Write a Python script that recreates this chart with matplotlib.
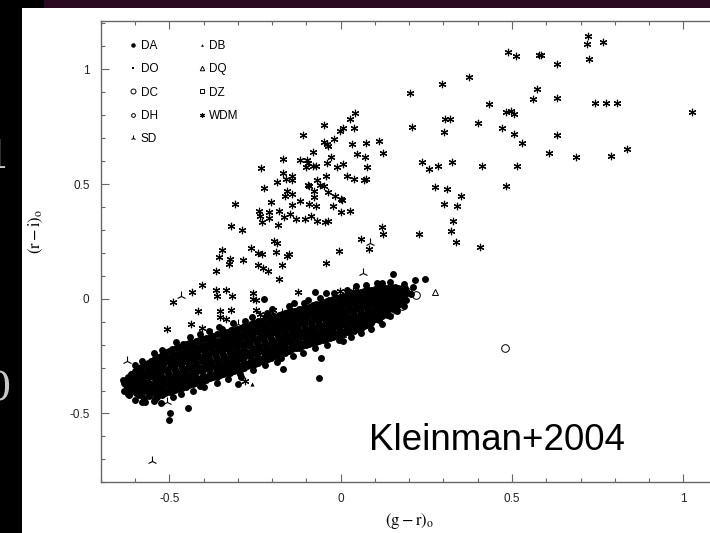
import matplotlib
matplotlib.use("Agg")
import matplotlib.pyplot as plt
from matplotlib.ticker import MultipleLocator, FuncFormatter
from matplotlib.patches import Rectangle

plt.rcParams['font.family'] = ['Liberation Sans', 'DejaVu Sans']
plt.rcParams['mathtext.fontset'] = 'stix'

W, H, DPI = 710, 533, 100

# ---- colour-colour data: (g-r)_o, (r-i)_o ----
da_core_a = [
    (-0.634, -0.356), (-0.628, -0.373), (-0.624, -0.389), (-0.631, -0.402), (-0.621, -0.417),
    (-0.613, -0.329), (-0.607, -0.348), (-0.615, -0.366), (-0.604, -0.383), (-0.611, -0.401), (-0.617, -0.421),
    (-0.593, -0.306), (-0.586, -0.326), (-0.596, -0.344), (-0.589, -0.363), (-0.583, -0.381), (-0.594, -0.399), (-0.588, -0.418),
    (-0.574, -0.287), (-0.566, -0.309), (-0.571, -0.331), (-0.578, -0.347), (-0.565, -0.366), (-0.572, -0.386), (-0.568, -0.404), (-0.575, -0.431),
    (-0.553, -0.271), (-0.546, -0.292), (-0.556, -0.314), (-0.549, -0.334), (-0.543, -0.351), (-0.552, -0.372), (-0.547, -0.392), (-0.555, -0.414), (-0.544, -0.446),
    (-0.534, -0.254), (-0.527, -0.276), (-0.531, -0.299), (-0.536, -0.320), (-0.524, -0.341), (-0.533, -0.361), (-0.526, -0.381), (-0.529, -0.404), (-0.535, -0.428),
    (-0.512, -0.233), (-0.506, -0.259), (-0.515, -0.282), (-0.508, -0.304), (-0.503, -0.325), (-0.514, -0.346), (-0.509, -0.366), (-0.505, -0.389), (-0.511, -0.411),
    (-0.493, -0.221), (-0.487, -0.246), (-0.495, -0.269), (-0.489, -0.291), (-0.484, -0.314), (-0.494, -0.335), (-0.488, -0.356), (-0.486, -0.379), (-0.492, -0.401),
    (-0.472, -0.209), (-0.466, -0.237), (-0.474, -0.259), (-0.468, -0.283), (-0.463, -0.302), (-0.475, -0.325), (-0.469, -0.346), (-0.465, -0.369), (-0.471, -0.392),
    (-0.452, -0.199), (-0.446, -0.224), (-0.455, -0.248), (-0.449, -0.272), (-0.443, -0.291), (-0.454, -0.314), (-0.447, -0.335), (-0.444, -0.359), (-0.451, -0.383),
    (-0.433, -0.191), (-0.426, -0.213), (-0.435, -0.239), (-0.429, -0.260), (-0.424, -0.284), (-0.434, -0.303), (-0.428, -0.326), (-0.425, -0.351), (-0.431, -0.371),
    (-0.412, -0.181), (-0.406, -0.205), (-0.415, -0.227), (-0.409, -0.252), (-0.404, -0.272), (-0.414, -0.296), (-0.408, -0.316), (-0.405, -0.341), (-0.411, -0.361),
    (-0.393, -0.171), (-0.387, -0.196), (-0.395, -0.219), (-0.389, -0.242), (-0.384, -0.263), (-0.394, -0.286), (-0.388, -0.307), (-0.385, -0.331), (-0.392, -0.352),
    (-0.372, -0.163), (-0.366, -0.186), (-0.375, -0.210), (-0.369, -0.233), (-0.364, -0.254), (-0.374, -0.277), (-0.368, -0.298), (-0.365, -0.321), (-0.371, -0.343),
    (-0.353, -0.153), (-0.347, -0.178), (-0.355, -0.200), (-0.349, -0.224), (-0.344, -0.245), (-0.354, -0.268), (-0.348, -0.289), (-0.345, -0.312), (-0.352, -0.334),
    (-0.332, -0.145), (-0.326, -0.169), (-0.335, -0.191), (-0.329, -0.215), (-0.324, -0.236), (-0.334, -0.259), (-0.328, -0.280), (-0.325, -0.303), (-0.331, -0.325),
    (-0.313, -0.136), (-0.307, -0.160), (-0.315, -0.183), (-0.309, -0.206), (-0.304, -0.227), (-0.314, -0.250), (-0.308, -0.271), (-0.305, -0.294), (-0.312, -0.316),
    (-0.292, -0.127), (-0.286, -0.150), (-0.295, -0.173), (-0.289, -0.196), (-0.284, -0.217), (-0.294, -0.240), (-0.288, -0.261), (-0.285, -0.284), (-0.291, -0.305),
    (-0.273, -0.117), (-0.267, -0.140), (-0.275, -0.163), (-0.269, -0.186), (-0.264, -0.207), (-0.274, -0.230), (-0.268, -0.251), (-0.265, -0.274), (-0.272, -0.295),
    (-0.252, -0.106), (-0.246, -0.129), (-0.255, -0.152), (-0.249, -0.175), (-0.244, -0.196), (-0.254, -0.219), (-0.248, -0.240), (-0.245, -0.263), (-0.251, -0.284),
    (-0.233, -0.095), (-0.227, -0.118), (-0.235, -0.141), (-0.229, -0.164), (-0.224, -0.185), (-0.234, -0.208), (-0.228, -0.229), (-0.225, -0.252), (-0.232, -0.273),
    (-0.212, -0.084), (-0.206, -0.107), (-0.215, -0.130), (-0.209, -0.153), (-0.204, -0.174), (-0.214, -0.197), (-0.208, -0.218), (-0.205, -0.241), (-0.211, -0.262),
    (-0.193, -0.073), (-0.187, -0.096), (-0.195, -0.119), (-0.189, -0.142), (-0.184, -0.163), (-0.194, -0.186), (-0.188, -0.207), (-0.185, -0.230), (-0.192, -0.251),
    (-0.172, -0.066), (-0.166, -0.088), (-0.175, -0.110), (-0.169, -0.132), (-0.164, -0.153), (-0.174, -0.175), (-0.168, -0.196), (-0.165, -0.218), (-0.171, -0.237),
    (-0.153, -0.057), (-0.147, -0.079), (-0.155, -0.101), (-0.149, -0.123), (-0.144, -0.144), (-0.154, -0.166), (-0.148, -0.187), (-0.145, -0.209), (-0.152, -0.228),
    (-0.132, -0.052), (-0.126, -0.073), (-0.135, -0.094), (-0.129, -0.115), (-0.124, -0.135), (-0.134, -0.156), (-0.128, -0.176), (-0.125, -0.197), (-0.131, -0.214),
    (-0.113, -0.043), (-0.107, -0.064), (-0.115, -0.085), (-0.109, -0.106), (-0.104, -0.126), (-0.114, -0.147), (-0.108, -0.167), (-0.105, -0.188), (-0.112, -0.205),
    (-0.092, -0.034), (-0.086, -0.055), (-0.095, -0.076), (-0.089, -0.097), (-0.084, -0.117), (-0.094, -0.138), (-0.088, -0.158), (-0.085, -0.179), (-0.091, -0.196),
    (-0.073, -0.025), (-0.067, -0.046), (-0.075, -0.067), (-0.069, -0.088), (-0.064, -0.108), (-0.074, -0.129), (-0.068, -0.149), (-0.065, -0.170), (-0.072, -0.187),
    (-0.052, -0.016), (-0.046, -0.037), (-0.055, -0.058), (-0.049, -0.079), (-0.044, -0.099), (-0.054, -0.120), (-0.048, -0.140), (-0.045, -0.161), (-0.051, -0.178),
    (-0.033, -0.007), (-0.027, -0.028), (-0.035, -0.049), (-0.029, -0.070), (-0.024, -0.090), (-0.034, -0.111), (-0.028, -0.131), (-0.025, -0.152), (-0.032, -0.169),
    (-0.012, 0.002), (-0.006, -0.019), (-0.015, -0.040), (-0.009, -0.061), (-0.004, -0.081), (-0.014, -0.102), (-0.008, -0.122), (-0.005, -0.143), (-0.011, -0.160),
    (0.008, 0.011), (0.014, -0.010), (0.005, -0.031), (0.011, -0.052), (0.016, -0.072), (0.006, -0.093), (0.012, -0.113), (0.015, -0.134), (0.009, -0.151),
    (0.027, 0.020), (0.033, -0.001), (0.025, -0.022), (0.031, -0.043), (0.036, -0.063), (0.026, -0.084), (0.032, -0.104), (0.035, -0.125), (0.028, -0.142),
    (0.048, 0.029), (0.054, 0.008), (0.045, -0.013), (0.051, -0.034), (0.056, -0.054), (0.046, -0.075), (0.052, -0.095), (0.055, -0.116), (0.049, -0.133),
    (0.067, 0.034), (0.073, 0.014), (0.065, -0.006), (0.071, -0.026), (0.076, -0.045), (0.066, -0.065), (0.072, -0.084), (0.075, -0.104), (0.068, -0.119),
    (0.088, 0.040), (0.094, 0.021), (0.085, 0.002), (0.091, -0.017), (0.096, -0.035), (0.086, -0.054), (0.092, -0.072), (0.095, -0.091), (0.089, -0.105),
    (0.107, 0.045), (0.113, 0.027), (0.105, 0.009), (0.111, -0.009), (0.116, -0.026), (0.106, -0.044), (0.112, -0.061), (0.115, -0.079),
    (0.128, 0.048), (0.134, 0.031), (0.125, 0.014), (0.131, -0.003), (0.136, -0.019), (0.126, -0.036), (0.132, -0.052), (0.135, -0.069),
    (0.147, 0.050), (0.153, 0.034), (0.145, 0.018), (0.151, 0.002), (0.156, -0.013), (0.146, -0.029), (0.152, -0.045),
    (0.168, 0.048), (0.174, 0.033), (0.165, 0.018), (0.171, 0.003), (0.176, -0.012), (0.166, -0.027),
    (0.187, 0.045), (0.193, 0.028), (0.185, 0.012), (0.191, -0.004),
]
da_core_b = [
    (-0.619, -0.343), (-0.622, -0.366), (-0.618, -0.386), (-0.623, -0.407),
    (-0.601, -0.316), (-0.598, -0.337), (-0.603, -0.356), (-0.599, -0.374), (-0.602, -0.392), (-0.597, -0.412),
    (-0.581, -0.296), (-0.579, -0.318), (-0.584, -0.338), (-0.577, -0.357), (-0.582, -0.375), (-0.578, -0.394), (-0.583, -0.416),
    (-0.561, -0.279), (-0.559, -0.302), (-0.563, -0.323), (-0.558, -0.342), (-0.562, -0.361), (-0.557, -0.380), (-0.561, -0.399), (-0.559, -0.422),
    (-0.541, -0.259), (-0.538, -0.283), (-0.543, -0.306), (-0.539, -0.327), (-0.542, -0.346), (-0.537, -0.366), (-0.541, -0.387), (-0.538, -0.409), (-0.542, -0.436),
    (-0.521, -0.243), (-0.518, -0.266), (-0.522, -0.290), (-0.519, -0.312), (-0.523, -0.333), (-0.517, -0.353), (-0.521, -0.374), (-0.518, -0.397), (-0.522, -0.421),
    (-0.501, -0.226), (-0.498, -0.252), (-0.502, -0.275), (-0.499, -0.297), (-0.503, -0.318), (-0.497, -0.339), (-0.501, -0.361), (-0.498, -0.383), (-0.502, -0.407),
    (-0.481, -0.213), (-0.478, -0.240), (-0.482, -0.264), (-0.479, -0.286), (-0.483, -0.307), (-0.477, -0.328), (-0.481, -0.351), (-0.478, -0.373), (-0.482, -0.396),
    (-0.461, -0.205), (-0.458, -0.230), (-0.462, -0.253), (-0.459, -0.276), (-0.463, -0.297), (-0.457, -0.318), (-0.461, -0.340), (-0.458, -0.363), (-0.462, -0.388),
    (-0.441, -0.193), (-0.438, -0.219), (-0.442, -0.243), (-0.439, -0.266), (-0.443, -0.287), (-0.437, -0.308), (-0.441, -0.331), (-0.438, -0.354), (-0.442, -0.378),
    (-0.421, -0.186), (-0.418, -0.209), (-0.422, -0.233), (-0.419, -0.256), (-0.423, -0.278), (-0.417, -0.299), (-0.421, -0.321), (-0.418, -0.345), (-0.422, -0.366),
    (-0.401, -0.174), (-0.398, -0.200), (-0.402, -0.223), (-0.399, -0.246), (-0.403, -0.267), (-0.397, -0.290), (-0.401, -0.311), (-0.398, -0.335), (-0.402, -0.358),
    (-0.381, -0.167), (-0.378, -0.191), (-0.382, -0.214), (-0.379, -0.237), (-0.383, -0.258), (-0.377, -0.281), (-0.381, -0.302), (-0.378, -0.326), (-0.382, -0.347),
    (-0.361, -0.155), (-0.358, -0.182), (-0.362, -0.205), (-0.359, -0.228), (-0.363, -0.249), (-0.357, -0.272), (-0.361, -0.293), (-0.358, -0.316), (-0.362, -0.340),
    (-0.341, -0.149), (-0.338, -0.173), (-0.342, -0.195), (-0.339, -0.219), (-0.343, -0.240), (-0.337, -0.263), (-0.341, -0.284), (-0.338, -0.307), (-0.342, -0.329),
    (-0.321, -0.138), (-0.318, -0.164), (-0.322, -0.187), (-0.319, -0.210), (-0.323, -0.231), (-0.317, -0.254), (-0.321, -0.275), (-0.318, -0.298), (-0.322, -0.322),
    (-0.301, -0.131), (-0.298, -0.155), (-0.302, -0.178), (-0.299, -0.201), (-0.303, -0.222), (-0.297, -0.245), (-0.301, -0.266), (-0.298, -0.289), (-0.302, -0.310),
    (-0.281, -0.120), (-0.278, -0.145), (-0.282, -0.168), (-0.279, -0.191), (-0.283, -0.212), (-0.277, -0.235), (-0.281, -0.256), (-0.278, -0.279), (-0.282, -0.303),
    (-0.261, -0.111), (-0.258, -0.134), (-0.262, -0.157), (-0.259, -0.180), (-0.263, -0.201), (-0.257, -0.224), (-0.261, -0.245), (-0.258, -0.268), (-0.262, -0.289),
    (-0.241, -0.098), (-0.238, -0.123), (-0.242, -0.146), (-0.239, -0.169), (-0.243, -0.190), (-0.237, -0.213), (-0.241, -0.234), (-0.238, -0.257), (-0.242, -0.281),
    (-0.221, -0.090), (-0.218, -0.113), (-0.222, -0.136), (-0.219, -0.159), (-0.223, -0.180), (-0.217, -0.203), (-0.221, -0.224), (-0.218, -0.247), (-0.222, -0.268),
    (-0.201, -0.077), (-0.198, -0.102), (-0.202, -0.125), (-0.199, -0.148), (-0.203, -0.169), (-0.197, -0.192), (-0.201, -0.213), (-0.198, -0.236), (-0.202, -0.260),
    (-0.181, -0.070), (-0.178, -0.092), (-0.182, -0.115), (-0.179, -0.137), (-0.183, -0.158), (-0.177, -0.180), (-0.181, -0.201), (-0.178, -0.224), (-0.182, -0.244),
    (-0.161, -0.060), (-0.158, -0.084), (-0.162, -0.106), (-0.159, -0.128), (-0.163, -0.149), (-0.157, -0.170), (-0.161, -0.192), (-0.158, -0.213), (-0.162, -0.236),
    (-0.141, -0.055), (-0.138, -0.076), (-0.142, -0.098), (-0.139, -0.119), (-0.143, -0.140), (-0.137, -0.161), (-0.141, -0.182), (-0.138, -0.203), (-0.142, -0.221),
    (-0.121, -0.046), (-0.118, -0.069), (-0.122, -0.090), (-0.119, -0.111), (-0.123, -0.131), (-0.117, -0.152), (-0.121, -0.172), (-0.118, -0.193), (-0.122, -0.213),
    (-0.101, -0.039), (-0.098, -0.060), (-0.102, -0.081), (-0.099, -0.102), (-0.103, -0.122), (-0.097, -0.143), (-0.101, -0.163), (-0.098, -0.184), (-0.102, -0.201),
    (-0.081, -0.028), (-0.078, -0.051), (-0.082, -0.072), (-0.079, -0.093), (-0.083, -0.113), (-0.077, -0.134), (-0.081, -0.154), (-0.078, -0.175), (-0.082, -0.195),
    (-0.061, -0.021), (-0.058, -0.042), (-0.062, -0.063), (-0.059, -0.084), (-0.063, -0.104), (-0.057, -0.125), (-0.061, -0.145), (-0.058, -0.166), (-0.062, -0.183),
    (-0.041, -0.010), (-0.038, -0.033), (-0.042, -0.054), (-0.039, -0.075), (-0.043, -0.095), (-0.037, -0.116), (-0.041, -0.136), (-0.038, -0.157), (-0.042, -0.177),
    (-0.021, -0.003), (-0.018, -0.024), (-0.022, -0.045), (-0.019, -0.066), (-0.023, -0.086), (-0.017, -0.107), (-0.021, -0.127), (-0.018, -0.148), (-0.022, -0.165),
    (-0.001, 0.008), (0.002, -0.015), (-0.002, -0.036), (0.001, -0.057), (-0.003, -0.077), (0.003, -0.098), (-0.001, -0.118), (0.002, -0.139), (-0.002, -0.158),
    (0.019, 0.015), (0.022, -0.006), (0.018, -0.027), (0.021, -0.048), (0.017, -0.068), (0.023, -0.089), (0.019, -0.109), (0.022, -0.130), (0.018, -0.147),
    (0.039, 0.026), (0.042, 0.003), (0.038, -0.018), (0.041, -0.039), (0.037, -0.059), (0.043, -0.080), (0.039, -0.100), (0.042, -0.121), (0.038, -0.140),
    (0.059, 0.031), (0.062, 0.011), (0.058, -0.010), (0.061, -0.030), (0.057, -0.050), (0.063, -0.070), (0.059, -0.090), (0.062, -0.110), (0.058, -0.126),
    (0.079, 0.039), (0.082, 0.018), (0.078, -0.001), (0.081, -0.021), (0.077, -0.040), (0.083, -0.060), (0.079, -0.078), (0.082, -0.098), (0.078, -0.114),
    (0.099, 0.042), (0.102, 0.024), (0.098, 0.005), (0.101, -0.013), (0.097, -0.031), (0.103, -0.050), (0.099, -0.067), (0.102, -0.087),
    (0.119, 0.048), (0.122, 0.029), (0.118, 0.011), (0.121, -0.006), (0.117, -0.023), (0.123, -0.040), (0.119, -0.057), (0.122, -0.076),
    (0.139, 0.049), (0.142, 0.032), (0.138, 0.016), (0.141, 0.000), (0.137, -0.016), (0.143, -0.032), (0.139, -0.051),
    (0.159, 0.051), (0.162, 0.034), (0.158, 0.018), (0.161, 0.003), (0.157, -0.012), (0.163, -0.028),
    (0.179, 0.046), (0.182, 0.030), (0.178, 0.015), (0.181, -0.001),
]
da_edges = [
    (-0.600, -0.290), (-0.580, -0.270), (-0.545, -0.235), (-0.520, -0.225), (-0.480, -0.190),
    (-0.440, -0.165), (-0.410, -0.155), (-0.385, -0.140), (-0.355, -0.125), (-0.315, -0.105),
    (-0.280, -0.095), (-0.260, -0.080), (-0.215, -0.060), (-0.200, -0.045), (-0.150, -0.030),
    (-0.135, -0.020), (-0.095, -0.005), (-0.060, 0.005), (-0.020, 0.025), (0.020, 0.040),
    (0.045, 0.055), (0.075, 0.060), (0.105, 0.070), (0.145, 0.075), (0.185, 0.065),
    (0.210, 0.050), (0.205, 0.020),
    (-0.600, -0.440), (-0.580, -0.450), (-0.525, -0.455), (-0.490, -0.430), (-0.465, -0.415),
    (-0.430, -0.400), (-0.400, -0.385), (-0.360, -0.365), (-0.330, -0.350), (-0.295, -0.330),
    (-0.255, -0.310), (-0.220, -0.290), (-0.185, -0.275), (-0.140, -0.250), (-0.110, -0.235),
    (-0.075, -0.215), (-0.040, -0.200), (-0.005, -0.180), (0.030, -0.165), (0.060, -0.150),
    (0.090, -0.130), (0.120, -0.110), (0.145, -0.075), (0.165, -0.055), (0.185, -0.030),
]
da_scatter = [
    (-0.570, -0.452), (-0.497, -0.496), (-0.500, -0.530), (-0.444, -0.474), (-0.410, -0.380),
    (-0.300, -0.373), (-0.290, -0.342), (-0.167, -0.307), (-0.173, -0.257), (-0.058, -0.257),
    (-0.063, -0.347), (0.008, -0.184), (0.086, -0.090), (0.152, 0.109), (0.217, 0.081),
    (0.246, 0.088), (-0.225, -0.003), (-0.346, -0.133), (-0.376, -0.184), (-0.460, -0.199),
    (-0.492, -0.246), (-0.074, 0.029), (-0.042, 0.026), (0.008, 0.004), (-0.108, -0.017),
    (0.120, 0.070), (0.125, 0.043), (0.113, -0.094), (-0.616, -0.415), (-0.633, -0.365),
]
da = da_core_a + da_core_b + da_edges + da_scatter
do = [(-0.300, -0.200), (-0.450, -0.300), (-0.120, -0.150)]
dc = [(0.170, 0.030), (0.197, 0.030), (0.220, 0.015), (0.180, -0.030), (0.150, -0.050),
      (0.135, -0.010), (0.040, -0.080), (0.036, -0.125), (0.060, -0.125), (-0.230, -0.130),
      (0.480, -0.216), (0.100, 0.000), (0.120, -0.040), (-0.100, -0.060), (-0.020, -0.030),
      (0.070, -0.020), (-0.160, -0.080)]
dh = [(0.090, -0.060), (-0.050, -0.100), (0.130, 0.020)]
sd = [(-0.623, -0.270), (-0.600, -0.320), (-0.555, -0.416), (-0.526, -0.410), (-0.506, -0.450),
      (-0.465, 0.010), (0.065, 0.114), (0.086, 0.245), (-0.300, -0.110), (-0.375, -0.155),
      (-0.337, -0.160), (-0.550, -0.706), (-0.170, -0.060)]
db = [(-0.259, -0.373), (-0.500, -0.340), (0.100, -0.030), (-0.100, -0.120)]
dq = [(0.275, 0.030), (0.077, 0.050), (0.007, -0.155), (0.090, -0.070)]
dz = [(-0.045, -0.170), (-0.030, -0.163), (0.050, -0.100)]
wdm = [
    (0.722, 1.145), (0.718, 1.109), (0.764, 1.120), (0.487, 1.077), (0.511, 1.056), (0.585, 1.061),
    (0.579, 1.064), (0.631, 1.023), (0.725, 1.043), (0.373, 0.965), (0.295, 0.936), (0.203, 0.898),
    (0.572, 0.913), (0.561, 0.872), (0.632, 0.877), (0.434, 0.848), (0.482, 0.813), (0.496, 0.820),
    (0.507, 0.804), (0.742, 0.855), (0.774, 0.855), (0.805, 0.855), (1.024, 0.814), (0.303, 0.784),
    (0.319, 0.784), (0.209, 0.748), (0.301, 0.726), (0.402, 0.764), (0.472, 0.746), (0.507, 0.720),
    (0.632, 0.713), (0.528, 0.677), (0.836, 0.653), (0.608, 0.635), (0.686, 0.617), (0.790, 0.622),
    (0.033, 0.674), (0.073, 0.681), (0.112, 0.688), (0.049, 0.630), (0.071, 0.619), (0.125, 0.637),
    (0.006, 0.587), (0.076, 0.574), (0.238, 0.596), (0.258, 0.565), (0.285, 0.580), (0.326, 0.594),
    (0.412, 0.577), (0.514, 0.577), (0.018, 0.533), (0.039, 0.522), (0.067, 0.516), (0.073, 0.522),
    (0.274, 0.485), (0.310, 0.480), (0.351, 0.450), (0.482, 0.491), (0.003, 0.432), (0.028, 0.384),
    (0.000, 0.377), (0.302, 0.414), (0.340, 0.406), (0.329, 0.337), (0.322, 0.294), (0.337, 0.248),
    (0.407, 0.224), (0.229, 0.284), (0.122, 0.313), (0.125, 0.284), (0.059, 0.261), (0.084, 0.217),
    (0.042, 0.809), (0.028, 0.783), (-0.048, 0.756), (0.006, 0.746), (-0.001, 0.733), (0.040, 0.743),
    (-0.111, 0.713), (-0.019, 0.697), (-0.050, 0.685), (-0.040, 0.675), (-0.037, 0.667), (-0.082, 0.639),
    (-0.029, 0.617), (-0.169, 0.609), (-0.118, 0.603), (-0.099, 0.606), (-0.094, 0.591), (-0.081, 0.580),
    (-0.100, 0.574), (-0.071, 0.577), (-0.040, 0.591), (-0.011, 0.574), (-0.231, 0.568), (-0.167, 0.550),
    (-0.142, 0.536), (-0.142, 0.519), (-0.186, 0.511), (-0.159, 0.522), (-0.043, 0.537), (-0.069, 0.519),
    (-0.094, 0.497), (-0.091, 0.490), (-0.060, 0.494), (-0.050, 0.490), (-0.225, 0.483), (-0.157, 0.471),
    (-0.142, 0.458), (-0.162, 0.446), (-0.079, 0.468), (-0.036, 0.464), (-0.016, 0.450), (0.001, 0.435),
    (-0.079, 0.442), (-0.091, 0.414), (-0.071, 0.406), (-0.118, 0.427), (-0.142, 0.407), (-0.204, 0.422),
    (-0.308, 0.413), (-0.023, 0.403), (-0.237, 0.384), (-0.208, 0.377), (-0.179, 0.381), (-0.147, 0.371),
    (-0.235, 0.359), (-0.230, 0.333), (-0.210, 0.352), (-0.165, 0.355), (-0.130, 0.349), (-0.103, 0.349),
    (-0.086, 0.359), (-0.069, 0.337), (-0.045, 0.335), (-0.037, 0.340), (-0.183, 0.320), (-0.320, 0.319),
    (-0.288, 0.301), (-0.193, 0.250), (-0.186, 0.243), (-0.345, 0.214), (-0.262, 0.222), (-0.241, 0.200),
    (-0.230, 0.196), (-0.189, 0.203), (-0.152, 0.193), (-0.006, 0.207), (-0.354, 0.183), (-0.322, 0.174),
    (-0.327, 0.153), (-0.363, 0.120), (-0.286, 0.168), (-0.240, 0.145), (-0.227, 0.132), (-0.213, 0.120),
    (-0.181, 0.088), (-0.171, 0.146), (-0.157, 0.185), (-0.042, 0.156), (-0.405, 0.059), (-0.434, 0.030),
    (-0.489, -0.015), (-0.363, 0.040), (-0.361, 0.011), (-0.334, 0.037), (-0.317, 0.011), (-0.256, 0.026),
    (-0.256, 0.000), (-0.247, -0.006), (-0.123, 0.030), (-0.416, -0.054), (-0.351, -0.054), (-0.351, -0.078),
    (-0.334, -0.090), (-0.319, -0.047), (-0.246, -0.047), (-0.437, -0.109), (-0.405, -0.126), (-0.507, -0.133),
    (-0.235, -0.065), (-0.225, -0.080), (-0.196, -0.051), (0.036, 0.033), (-0.003, 0.033), (-0.278, -0.358),
]

classes = ["DA", "DO", "DC", "DH", "SD", "DB", "DQ", "DZ", "WDM"]
samples = [da, do, dc, dh, sd, db, dq, dz, wdm]
styles = {
    "DA":  dict(marker="o", ms=5.0, mfc="black", mec="black", mew=0.0),
    "DO":  dict(marker="s", ms=3.0, mfc="black", mec="black", mew=0.0),
    "DC":  dict(marker="o", ms=5.5, mfc="none", mec="black", mew=0.7),
    "DH":  dict(marker="o", ms=4.2, mfc="none", mec="black", mew=0.7),
    "SD":  dict(marker="2", ms=6.5, mfc="black", mec="black", mew=0.8),
    "DB":  dict(marker="^", ms=3.0, mfc="black", mec="black", mew=0.0),
    "DQ":  dict(marker="^", ms=5.0, mfc="none", mec="black", mew=0.7),
    "DZ":  dict(marker="s", ms=3.6, mfc="none", mec="black", mew=0.7),
    "WDM": dict(marker=(6, 2, 0), ms=5.3, mfc="black", mec="black", mew=0.85),
}
legend_scale = 0.65

fig = plt.figure(figsize=(W / DPI, H / DPI), dpi=DPI)
fig.patch.set_facecolor("white")

# slide frame: dark strip on the left and a purple title band on top
fig.add_artist(Rectangle((0, 0), 22 / W, 1, transform=fig.transFigure,
                         facecolor="black", edgecolor="none"))
fig.add_artist(Rectangle((0, 1 - 8 / H), 44 / W, 8 / H, transform=fig.transFigure,
                         facecolor="black", edgecolor="none"))
fig.add_artist(Rectangle((44 / W, 1 - 8 / H), 1 - 44 / W, 8 / H, transform=fig.transFigure,
                         facecolor="#2a0a20", edgecolor="none"))
fig.text(10 / W, 1 - 157 / H, "1", ha="right", va="center", color="#c8c8c8",
         fontsize=28, family="DejaVu Serif")
fig.text(11 / W, 1 - 390 / H, "0", ha="right", va="center", color="#c8c8c8",
         fontsize=28, family="DejaVu Serif")

ax = fig.add_axes([100.7 / W, 1 - 482.3 / H, 617 / W, 461.6 / H])
ax.set_xlim(-0.7, 1.1)
ax.set_ylim(-0.8, 1.212)

handles = []
for name, pts in zip(classes, samples):
    gr = [p[0] for p in pts]
    ri = [p[1] for p in pts]
    line, = ax.plot(gr, ri, linestyle="none", label=name, **styles[name])
    handles.append(line)

leg = ax.legend(handles=handles, labels=classes, ncol=2, loc="upper left",
                bbox_to_anchor=(0.047, 0.958), frameon=False, fontsize=8.5,
                handlelength=0.6, handletextpad=0.35, labelspacing=0.95,
                columnspacing=3.35, borderaxespad=0, borderpad=0,
                markerscale=legend_scale)

grey = "#666666"
for s in ax.spines.values():
    s.set_color(grey)
    s.set_linewidth(1.0)
ax.xaxis.set_major_locator(MultipleLocator(0.5))
ax.xaxis.set_minor_locator(MultipleLocator(0.1))
ax.yaxis.set_major_locator(MultipleLocator(0.5))
ax.yaxis.set_minor_locator(MultipleLocator(0.1))
fmt = FuncFormatter(lambda v, p: ("%g" % v).replace("\u2212", "-"))
ax.xaxis.set_major_formatter(fmt)
ax.yaxis.set_major_formatter(fmt)
ax.tick_params(which="both", direction="in", top=True, right=True, color=grey,
               width=0.8, labelsize=8.5, labelcolor="#222222")
ax.tick_params(which="major", length=6, pad=8)
ax.tick_params(which="minor", length=3.2)

ax.set_xlabel(r"$(\mathrm{g-r})_\mathrm{o}$", fontsize=12, labelpad=4)
ax.set_ylabel(r"$(\mathrm{r-i})_\mathrm{o}$", fontsize=12)
ax.yaxis.set_label_coords(-0.09, 0.544)

ax.text(368.5 / W, 1 - 450 / H, "Kleinman+2004", transform=fig.transFigure,
        ha="left", va="baseline", fontsize=26.5, color="black")

fig.savefig("out.png", dpi=DPI)
